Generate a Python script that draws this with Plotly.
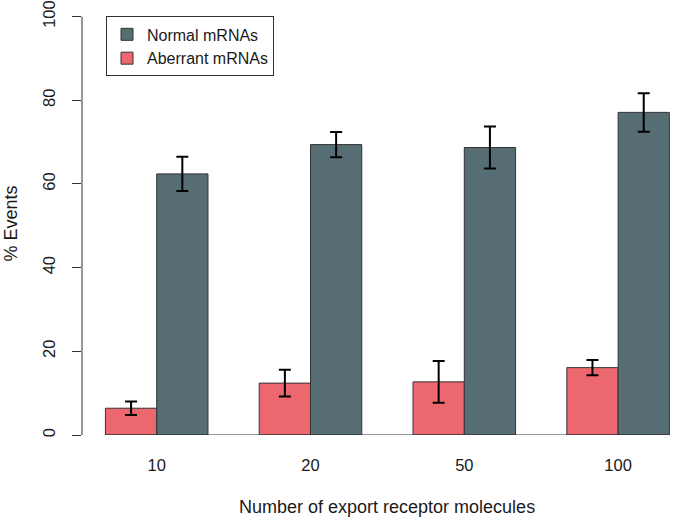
import plotly.graph_objects as go

categories = ["10", "20", "50", "100"]
aberrant = [6.4, 12.4, 12.7, 16.1]
aberrant_err = [1.6, 3.2, 5.0, 1.8]
normal = [62.4, 69.4, 68.7, 77.1]
normal_err = [4.1, 3.0, 5.0, 4.6]
y_ticks = [0, 20, 40, 60, 80, 100]

FONT = "Liberation Sans, Arial, sans-serif"
TXT = "#1a1a1a"
COL_AB = "#EC686E"
COL_NO = "#566E73"

W, H = 675, 522
Y_MAX = 103
PX_PER_Y = 4.2
ML, MR, MB = 82, 0, 87
MT = round(H - MB - Y_MAX * PX_PER_Y)
PW = W - ML - MR
PH = H - MT - MB
PX_PER_CAT = 153.8
first_center_px = 156.7
x_left = (ML - first_center_px) / PX_PER_CAT
x_right = x_left + PW / PX_PER_CAT
bargap = 1 / 3

fig = go.Figure()
fig.add_trace(go.Bar(
    x=categories, y=aberrant, name="Aberrant mRNAs",
    marker=dict(color=COL_AB, line=dict(color="#333333", width=1)),
    error_y=dict(type="data", array=aberrant_err, color="black", thickness=2, width=6),
))
fig.add_trace(go.Bar(
    x=categories, y=normal, name="Normal mRNAs",
    marker=dict(color=COL_NO, line=dict(color="#333333", width=1)),
    error_y=dict(type="data", array=normal_err, color="black", thickness=2, width=6),
))

half = (1 - bargap) / 2
# x baseline spanning the bars
fig.add_shape(type="line", xref="x", yref="y",
              x0=0 - half, x1=len(categories) - 1 + half, y0=0, y1=0,
              line=dict(color="#333333", width=1))
# y axis line from first to last tick
fig.add_shape(type="line", xref="paper", yref="y",
              x0=0, x1=0, y0=y_ticks[0], y1=y_ticks[-1],
              line=dict(color="#333333", width=1))

def px_to_paper_x(px):
    return (px - ML) / PW

def px_to_paper_y(py):
    return (H - MB - py) / PH

fig.add_annotation(text="% Events", xref="paper", yref="paper",
                   x=px_to_paper_x(0), y=px_to_paper_y(222.5), textangle=-90,
                   showarrow=False, xanchor="left", yanchor="middle",
                   borderpad=0,
                   font=dict(family=FONT, size=18, color=TXT))
fig.add_annotation(text="Number of export receptor molecules", xref="paper", yref="paper",
                   x=px_to_paper_x(386.7), y=px_to_paper_y(507),
                   showarrow=False, xanchor="center", yanchor="middle",
                   font=dict(family=FONT, size=18, color=TXT))

fig.update_layout(
    width=W, height=H,
    margin=dict(l=ML, r=MR, t=MT, b=MB, pad=0),
    paper_bgcolor="white", plot_bgcolor="white",
    barmode="group", bargap=bargap, bargroupgap=0,
    font=dict(family=FONT, size=16, color=TXT),
    legend=dict(x=px_to_paper_x(106), y=px_to_paper_y(14.5), xanchor="left", yanchor="top",
                traceorder="reversed", bordercolor="#333333", borderwidth=1,
                bgcolor="white", font=dict(family=FONT, size=16, color=TXT)),
    xaxis=dict(type="category", range=[x_left, x_right], showline=False, ticks="",
               showgrid=False, zeroline=False, ticklabelstandoff=18,
               tickfont=dict(family=FONT, size=16.5, color=TXT)),
    yaxis=dict(range=[0, Y_MAX], tickvals=y_ticks, showline=False,
               ticks="outside", ticklen=9, tickcolor="#333333", tickwidth=1,
               tickangle=-90, showgrid=False, zeroline=False, ticklabelstandoff=10,
               ticklabeloverflow="allow",
               tickfont=dict(family=FONT, size=16.5, color=TXT)),
    showlegend=True,
)

fig.write_html("out.html", config={"displayModeBar": False},
               post_script="document.body.style.margin='0';document.body.style.overflow='hidden';")
